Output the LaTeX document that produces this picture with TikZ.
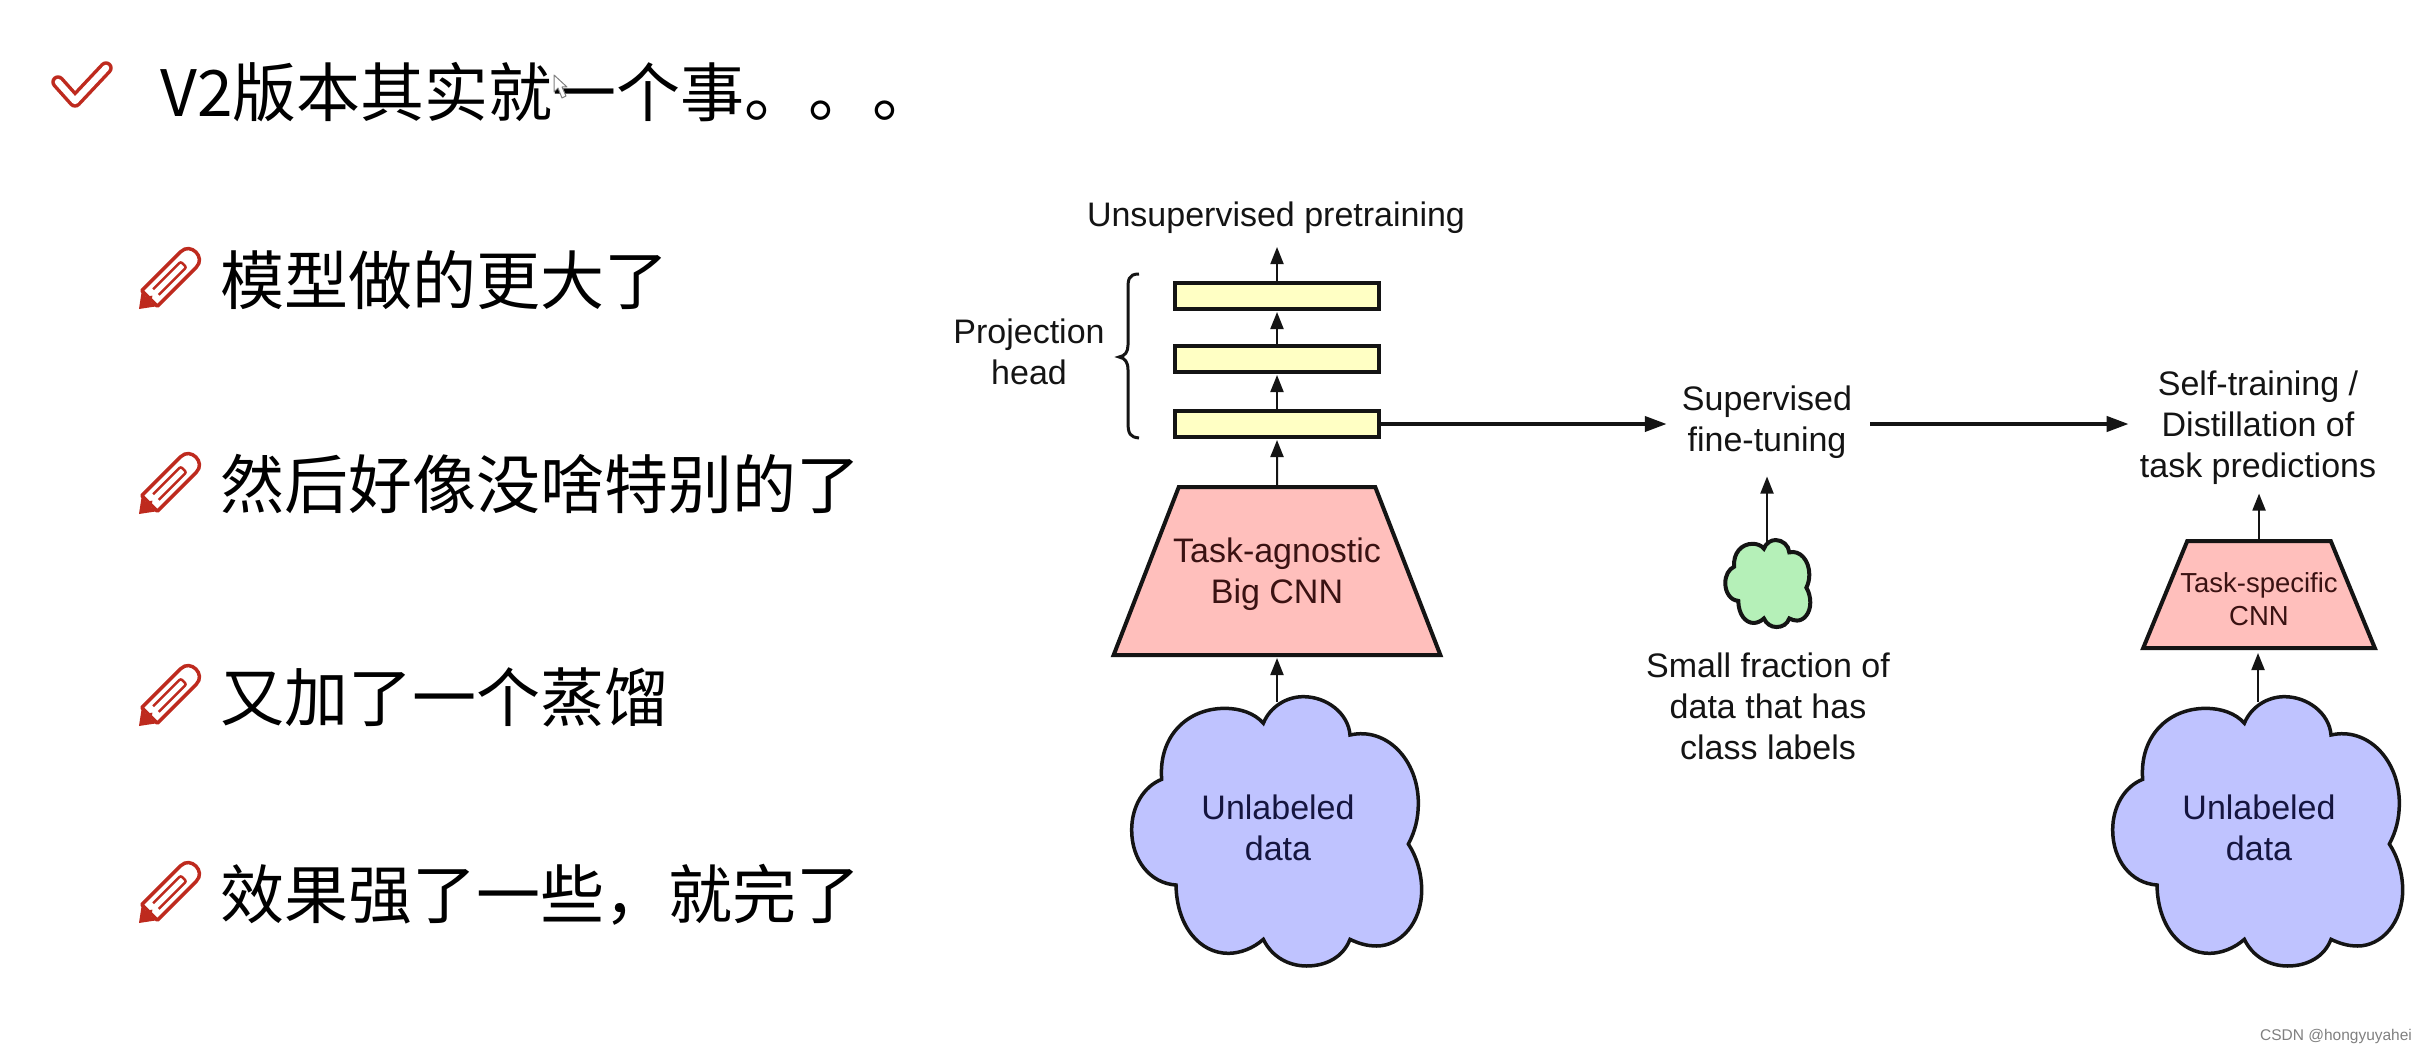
\documentclass[tikz,border=0pt]{standalone}
\usepackage{fontspec}
\setmainfont{Liberation Sans}
\newfontfamily\cjk{Noto Sans CJK SC}
\usetikzlibrary{shapes.geometric,arrows.meta}
\definecolor{barfill}{HTML}{FFFFC4}
\definecolor{pinkfill}{HTML}{FFBFBC}
\definecolor{bluefill}{HTML}{BFC3FF}
\definecolor{greenfill}{HTML}{B5F0B8}
\definecolor{iconred}{HTML}{BE2A1E}
\definecolor{pinktext}{HTML}{3A1212}
\definecolor{bluetext}{HTML}{15153F}
\definecolor{ink}{HTML}{141414}
\tikzset{
  lab/.style={font=\fontsize{34}{41}\selectfont,align=center,inner sep=0pt,text=ink},
  barbox/.style={draw=ink,line width=4pt,fill=barfill,minimum width=204pt,minimum height=26pt,inner sep=0pt,outer sep=0pt},
  cnn/.style={trapezium,trapezium stretches=true,draw=ink,line width=4pt,fill=pinkfill,inner ysep=0pt,outer sep=0pt,align=center,text=pinktext},
  thin arrow/.style={draw=ink,line width=2pt,-{Triangle[length=17pt,width=13pt]}},
  thick arrow/.style={draw=ink,line width=4pt,-{Triangle[length=22pt,width=15pt]}},
  cjkline/.style={anchor=west,inner sep=0pt,font=\cjk\fontsize{64}{70}\selectfont,text=black},
  pics/penicon/.style={code={
    \draw[iconred,line width=3.5pt,line join=round,fill=white] (15,11) -- (70,11) .. controls (84,11) and (84,-11) .. (70,-11) -- (15,-11) -- cycle;
    \draw[iconred,line width=2.5pt,rounded corners=2pt] (24,4) -- (63,4) -- (63,-4) -- (24,-4);
    \fill[iconred] (0,0) -- (17,12.5) -- (13,4) -- (19,0) -- (13,-4) -- (17,-12.5) -- cycle;
  }}
}
\newcommand{\cloudoutline}{(185,328) .. controls (175,200) and (260,115) .. (375,115) .. controls (420,115) and (465,130) .. (490,160)
 .. controls (510,110) and (560,80) .. (610,80) .. controls (680,80) and (745,130) .. (750,195)
 .. controls (860,170) and (955,270) .. (955,400) .. controls (955,445) and (945,485) .. (925,522)
 .. controls (950,560) and (965,610) .. (965,660) .. controls (965,760) and (900,828) .. (830,828) .. controls (800,828) and (775,820) .. (750,808)
 .. controls (730,860) and (680,888) .. (620,888) .. controls (565,888) and (515,860) .. (490,808)
 .. controls (460,835) and (420,850) .. (385,850) .. controls (300,850) and (230,770) .. (228,645)
 .. controls (150,640) and (95,570) .. (95,480) .. controls (95,410) and (130,350) .. (185,328) -- cycle}
\begin{document}
\begin{tikzpicture}[x=1pt,y=-1pt]
\useasboundingbox (0,0) rectangle (2427,1054);
\fill[white] (0,0) rectangle (2427,1054);

% left column
\draw[iconred,line width=3.5pt,double=white,double distance=6.5pt,line cap=round,line join=round] (58,82) -- (75,101) -- (106,68);
\node[cjkline] (title) at (160,92) {V2版本其实就一个事。。。};
\pic[rotate=45] at (139,309) {penicon};
\node[cjkline] (l1) at (220,280) {模型做的更大了};
\pic[rotate=45] at (139,514) {penicon};
\node[cjkline] (l2) at (220,484) {然后好像没啥特别的了};
\pic[rotate=45] at (139,726) {penicon};
\node[cjkline] (l3) at (220,697) {又加了一个蒸馏};
\pic[rotate=45] at (139,923) {penicon};
\node[cjkline] (l4) at (220,895) {效果强了一些，就完了};
\draw[gray,fill=white,line width=1pt,line join=round] (554,75) -- (554,92) -- (558,88) -- (562,98) -- (566,96) -- (562,87) -- (567,87) -- cycle;

% clouds
\begin{scope}[shift={(1100,670)},scale=0.33333]
  \draw[ink,line width=3.5pt,fill=bluefill] \cloudoutline;
\end{scope}
\begin{scope}[shift={(2081,670)},scale=0.33333]
  \draw[ink,line width=3.5pt,fill=bluefill] \cloudoutline;
\end{scope}
\begin{scope}[shift={(1716,531.4)},xscale=0.0977,yscale=0.1077]
  \draw[ink,line width=4pt,fill=greenfill] \cloudoutline;
\end{scope}
\coordinate (cloudAtop) at (1277,702);
\coordinate (cloudBtop) at (2258,702);
\coordinate (cloudCtop) at (1767,542);
\node[lab,text=bluetext] (cloudAtext) at (1278,828) {Unlabeled\\data};
\node[lab,text=bluetext] (cloudBtext) at (2259,828) {Unlabeled\\data};

% first column
\node[cnn,inner xsep=-6pt,minimum width=327pt,minimum height=168pt,trapezium left angle=50.6,trapezium right angle=50.6,font=\fontsize{34}{41}\selectfont] (bigcnn) at (1277,571) {\rule{0pt}{31pt}Task-agnostic\\Big CNN};
\node[barbox] (bar3) at (1277,424) {};
\node[barbox] (bar2) at (1277,359) {};
\node[barbox] (bar1) at (1277,296) {};
\node[lab] (unsup) at (1276,218) {Unsupervised pretraining};
\node[lab] (proj) at (1029,352) {Projection\\head};
\draw[ink,line width=3pt] (1139,274) .. controls (1128,274) and (1128,280) .. (1128,290) -- (1128,345) .. controls (1128,352) and (1125,356) .. (1119,357) .. controls (1125,358) and (1128,362) .. (1128,370) -- (1128,422) .. controls (1128,434) and (1130,437) .. (1139,438);

\draw[thin arrow] (cloudAtop) -- ([yshift=-3pt]cloudAtop |- bigcnn.south);
\draw[thin arrow,shorten >=3pt] (bigcnn.north) -- (bar3.south);
\draw[thin arrow,shorten >=3pt] (bar3.north) -- (bar2.south);
\draw[thin arrow,shorten >=3pt] (bar2.north) -- (bar1.south);
\draw[thin arrow,shorten >=13pt] (bar1.north) -- (bar1.north |- unsup.south);

% middle column
\node[lab] (sup) at (1767,422) {Supervised\\fine-tuning};
\node[lab] (small) at (1768,706) {Small fraction of\\data that has\\class labels};
\draw[thick arrow,shorten >=15pt] (bar3.east) -- (sup.west |- bar3.east);
\draw[thin arrow,shorten >=18pt] (cloudCtop) -- (cloudCtop |- sup.south);

% right column
\node[lab] (self) at (2258,428) {Self-training /\\Distillation of\\task predictions};
\draw[thick arrow,shorten <=18pt,shorten >=11pt] (sup.east |- bar3.east) -- (self.west |- bar3.east);
\node[cnn,inner xsep=-10pt,minimum width=232pt,minimum height=107pt,trapezium left angle=56.3,trapezium right angle=56.3,font=\fontsize{27.5}{33}\selectfont] (smallcnn) at (2259,594.5) {\rule{0pt}{30pt}Task-specific\\CNN};
\draw[thin arrow] (cloudBtop) -- ([yshift=-5pt]cloudBtop |- smallcnn.south);
\draw[thin arrow,shorten >=8.5pt] (smallcnn.north) -- (smallcnn.north |- self.south);

\node[inner sep=0pt,text=gray,font=\fontsize{15.5}{20}\selectfont] (mark) at (2336,1036) {CSDN @hongyuyahei};
\end{tikzpicture}
\end{document}
